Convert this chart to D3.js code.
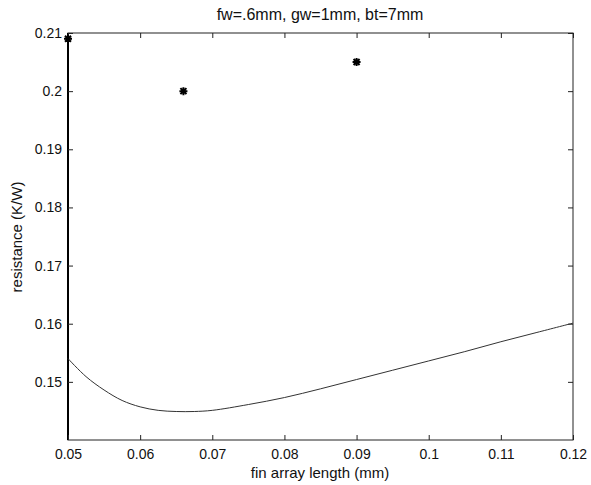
<html>
<head>
<style>
  body { margin: 0; background: #fff; }
  text { font-family: "Liberation Sans", Arial, sans-serif; fill: #111; }
</style>
<script src="https://cdn.jsdelivr.net/npm/d3@7"></script>
</head>
<body>
<svg width="591" height="485"></svg>
<script>
// curve: resistance vs fin array length
const lengths = [0.05, 0.0525, 0.055, 0.0575, 0.06, 0.0625, 0.065, 0.0675, 0.07, 0.075, 0.08, 0.085, 0.09, 0.095, 0.1, 0.105, 0.11, 0.115, 0.12];
const resist  = [0.1540, 0.1509, 0.1486, 0.1468, 0.1457, 0.1451, 0.1449, 0.1449, 0.1451, 0.1461, 0.1473, 0.1488, 0.1504, 0.1520, 0.1536, 0.1552, 0.1569, 0.1585, 0.1601];
// measured points (stars)
const starX = [0.05, 0.066, 0.09];
const starY = [0.209, 0.200, 0.205];
const xTicks = [0.05, 0.06, 0.07, 0.08, 0.09, 0.1, 0.11, 0.12];
const yTicks = [0.15, 0.16, 0.17, 0.18, 0.19, 0.2, 0.21];

const mLeft = 68, mRight = 573, mTop = 33, mBottom = 440;
const svg = d3.select("svg");

var xs = d3.scaleLinear().domain([0.05, 0.12]).range([mLeft, mRight]);
var ys = d3.scaleLinear().domain([0.14, 0.21]).range([mBottom, mTop]);

// axes box
svg.append("rect").attr("x", mLeft).attr("y", mTop)
  .attr("width", mRight - mLeft).attr("height", mBottom - mTop)
  .attr("fill", "none").attr("stroke", "#222").attr("stroke-width", 1);
svg.append("line").attr("x1", mLeft).attr("x2", mLeft).attr("y1", mTop).attr("y2", mBottom)
  .attr("stroke", "#000").attr("stroke-width", 2);

const fmt = d => String(+d.toFixed(2));

// ticks on all four sides, pointing inward
svg.append("g").attr("transform", "translate(0," + mBottom + ")")
  .call(d3.axisBottom(xs).tickValues(xTicks).tickSize(-5).tickPadding(9).tickFormat(fmt));
svg.append("g").attr("transform", "translate(0," + mTop + ")")
  .call(d3.axisTop(xs).tickValues(xTicks).tickSize(-5).tickFormat(""));
svg.append("g").attr("transform", "translate(" + mLeft + ",0)")
  .call(d3.axisLeft(ys).tickValues(yTicks).tickSize(-5).tickPadding(6).tickFormat(fmt));
svg.append("g").attr("transform", "translate(" + mRight + ",0)")
  .call(d3.axisRight(ys).tickValues(yTicks).tickSize(-5).tickFormat(""));

svg.selectAll(".domain").remove();
svg.selectAll(".tick line").attr("stroke", "#222");
svg.selectAll(".tick text").style("font-size", "14px").style("font-family", "'Liberation Sans', Arial, sans-serif").attr("fill", "#111");

// curve
const pts = lengths.map((x, i) => [x, resist[i]]);
svg.append("path").datum(pts)
  .attr("fill", "none").attr("stroke", "#333").attr("stroke-width", 1)
  .attr("d", d3.line().x(d => xs(d[0])).y(d => ys(d[1])).curve(d3.curveCatmullRom));

// stars (MATLAB '*' marker)
const r = 4;
const starPath = "M" + (-r) + ",0L" + r + ",0M0," + (-r) + "L0," + r +
  "M" + (-r * 0.75) + "," + (-r * 0.75) + "L" + (r * 0.75) + "," + (r * 0.75) +
  "M" + (-r * 0.75) + "," + (r * 0.75) + "L" + (r * 0.75) + "," + (-r * 0.75);
svg.append("g").selectAll("path").data(starX).enter().append("path")
  .attr("transform", (d, i) => "translate(" + xs(d) + "," + ys(starY[i]) + ")")
  .attr("d", starPath).attr("stroke", "#000").attr("stroke-width", 2).attr("fill", "none");

// labels
svg.append("text").attr("x", 320).attr("y", 20).attr("text-anchor", "middle")
  .style("font-size", "16px").text("fw=.6mm, gw=1mm, bt=7mm");
svg.append("text").attr("x", 320).attr("y", 478).attr("text-anchor", "middle")
  .style("font-size", "15px").text("fin array length (mm)");
svg.append("text").attr("transform", "translate(22,237) rotate(-90)").attr("text-anchor", "middle")
  .style("font-size", "15px").text("resistance (K/W)");
</script>
</body>
</html>
